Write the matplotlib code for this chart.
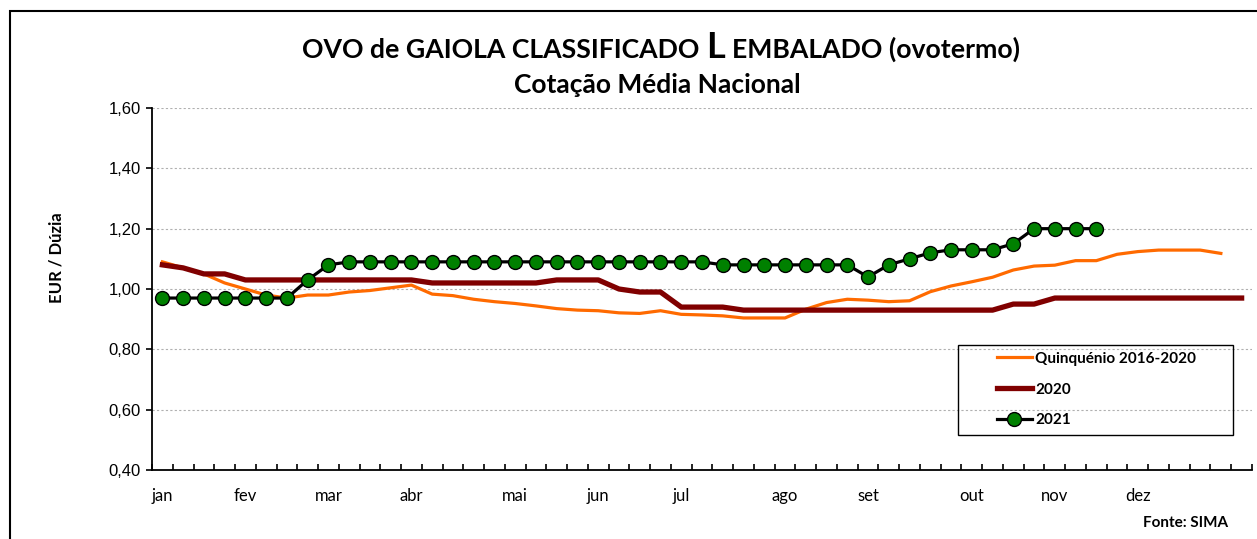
import numpy as np
import matplotlib
matplotlib.use("Agg")
import matplotlib.pyplot as plt
from matplotlib.patches import Rectangle

# semanas do ano e rótulos dos meses
semanas = list(range(1, 54))
meses = ["jan", "fev", "mar", "abr", "mai", "jun", "jul", "ago", "set", "out", "nov", "dez"]
semana_mes = [1, 5, 9, 13, 18, 22, 26, 31, 35, 40, 44, 48]

# EUR / dúzia
quinquenio = [1.09, 1.07, 1.05, 1.02, 1.00, 0.98, 0.97, 0.98, 0.98, 0.99,
              0.995, 1.004, 1.013, 0.983, 0.978, 0.966, 0.958, 0.952, 0.944, 0.935,
              0.930, 0.928, 0.921, 0.919, 0.928, 0.916, 0.914, 0.911, 0.904, 0.904,
              0.904, 0.933, 0.955, 0.966, 0.963, 0.958, 0.961, 0.991, 1.010, 1.024,
              1.039, 1.063, 1.076, 1.079, 1.094, 1.094, 1.115, 1.124, 1.129, 1.129,
              1.129, 1.118]
ano_2020 = [1.08, 1.07, 1.05, 1.05, 1.03, 1.03, 1.03, 1.03, 1.03, 1.03,
            1.03, 1.03, 1.03, 1.02, 1.02, 1.02, 1.02, 1.02, 1.02, 1.03,
            1.03, 1.03, 1.00, 0.99, 0.99, 0.94, 0.94, 0.94, 0.93, 0.93,
            0.93, 0.93, 0.93, 0.93, 0.93, 0.93, 0.93, 0.93, 0.93, 0.93,
            0.93, 0.95, 0.95, 0.97, 0.97, 0.97, 0.97, 0.97, 0.97, 0.97,
            0.97, 0.97, 0.97]
ano_2021 = [0.97, 0.97, 0.97, 0.97, 0.97, 0.97, 0.97, 1.03, 1.08, 1.09,
            1.09, 1.09, 1.09, 1.09, 1.09, 1.09, 1.09, 1.09, 1.09, 1.09,
            1.09, 1.09, 1.09, 1.09, 1.09, 1.09, 1.09, 1.08, 1.08, 1.08,
            1.08, 1.08, 1.08, 1.08, 1.04, 1.08, 1.10, 1.12, 1.13, 1.13,
            1.13, 1.15, 1.20, 1.20, 1.20, 1.20]

CAL = "Lato"
W, H = 1257, 539
fig = plt.figure(figsize=(W / 100, H / 100), dpi=100)
ax = fig.add_axes([152 / W, 1 - 470 / H, 1100 / W, 362 / H])

ax.plot(semanas[:len(quinquenio)], quinquenio, color="#FF6A00", lw=2.3,
        label="Quinquénio 2016-2020")
ax.plot(semanas[:len(ano_2020)], ano_2020, color="#800000", lw=3.8,
        label="2020")
ax.plot(semanas[:len(ano_2021)], ano_2021, color="black", lw=2.3,
        marker="o", ms=10, mfc="#008000", mec="black", mew=1.0, label="2021")

ax.set_xlim(0.5, 53.5)
ax.set_ylim(0.4, 1.6)
yt = np.arange(0.4, 1.61, 0.2)
ax.set_yticks(yt)
ax.set_yticklabels([f"{v:.2f}".replace(".", ",") for v in yt],
                   family="Liberation Sans", fontsize=12)
ax.tick_params(axis="y", direction="out", length=4, width=1.2, pad=4)

ax.set_xticks(np.arange(0.5, 54, 1))
ax.set_xticklabels([])
ax.tick_params(axis="x", which="major", direction="in", length=4, width=1.2)
ax.set_xticks(semana_mes, minor=True)
ax.set_xticklabels(meses, minor=True, family=CAL, fontsize=12)
ax.tick_params(axis="x", which="minor", length=0, pad=13)

ax.yaxis.grid(True, linestyle=(0, (2, 2)), color="#b0b0b0", lw=0.8)
ax.set_axisbelow(True)
for s in ["top", "right"]:
    ax.spines[s].set_visible(False)
for s in ["left", "bottom"]:
    ax.spines[s].set_linewidth(1.3)

fig.text(57 / W, 1 - 258 / H, "EUR / Dúzia", rotation=90, ha="center", va="center",
         family=CAL, fontweight="bold", fontsize=12)

# título com o "L" maior
r = fig.canvas.get_renderer()
partes = [("OVO de GAIOLA CLASSIFICADO", 19.2), ("L", 26), ("EMBALADO (ovotermo)", 19.2)]
objs = [fig.text(0, 1 - 58 / H, s, fontsize=fs, fontweight="bold", family=CAL,
                 va="baseline") for s, fs in partes]
larg = [t.get_window_extent(r).width for t in objs]
gap = 19.2 * 0.26 * 100 / 72
x0 = 661 - (sum(larg) + 2 * gap) / 2
for t, w in zip(objs, larg):
    t.set_x(x0 / W)
    x0 += w + gap
fig.text(657 / W, 1 - 93 / H, "Cotação Média Nacional", ha="center", va="baseline",
         fontsize=19, fontweight="bold", family=CAL)

# legenda
fig.patches.append(Rectangle((958 / W, 1 - 435 / H), 275 / W, 90 / H,
                             transform=fig.transFigure, fill=False, ec="black", lw=1))
fig.legend(loc="upper left", bbox_to_anchor=(983 / W, 1 - 338 / H), frameon=False,
           prop={"family": CAL, "weight": "bold", "size": 11},
           handlelength=2.3, handletextpad=0.2, labelspacing=1.1)

fig.text(1228 / W, 1 - 527 / H, "Fonte: SIMA", ha="right", va="baseline",
         family=CAL, fontweight="bold", fontsize=11)

# moldura exterior
fig.patches.append(Rectangle((10 / W, -0.1), 1.2, 1 - 11 / H + 0.1,
                             transform=fig.transFigure, fill=False, ec="black", lw=1.5))

fig.savefig("out.png", dpi=100)
